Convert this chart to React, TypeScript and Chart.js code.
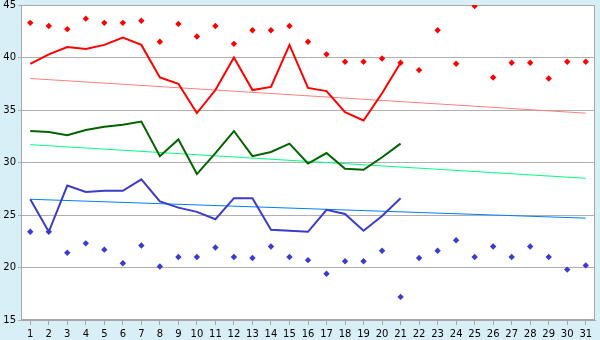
import React, { useEffect, useRef } from 'react';
import { Chart, registerables } from 'chart.js';

Chart.register(...registerables);

const days = ['1','2','3','4','5','6','7','8','9','10','11','12','13','14','15','16','17','18','19','20','21','22','23','24','25','26','27','28','29','30','31'];

const redLine = [39.4, 40.3, 41.0, 40.8, 41.2, 41.9, 41.2, 38.1, 37.5, 34.7, 36.9, 40.0, 36.9, 37.2, 41.2, 37.1, 36.8, 34.8, 34.0, 36.6, 39.5];
const greenLine = [33.0, 32.9, 32.6, 33.1, 33.4, 33.6, 33.9, 30.6, 32.2, 28.9, 30.9, 33.0, 30.6, 31.0, 31.8, 29.9, 30.9, 29.4, 29.3, 30.5, 31.8];
const blueLine = [26.5, 23.4, 27.8, 27.2, 27.3, 27.3, 28.4, 26.3, 25.7, 25.3, 24.6, 26.6, 26.6, 23.6, 23.5, 23.4, 25.5, 25.1, 23.5, 24.9, 26.6];

const redPoints = [43.3, 43.0, 42.7, 43.7, 43.3, 43.3, 43.5, 41.5, 43.2, 42.0, 43.0, 41.3, 42.6, 42.6, 43.0, 41.5, 40.3, 39.6, 39.6, 39.9, 39.5, 38.8, 42.6, 39.4, 44.9, 38.1, 39.5, 39.5, 38.0, 39.6, 39.6];
const bluePoints = [23.4, 23.4, 21.4, 22.3, 21.7, 20.4, 22.1, 20.1, 21.0, 21.0, 21.9, 21.0, 20.9, 22.0, 21.0, 20.7, 19.4, 20.6, 20.6, 21.6, 17.2, 20.9, 21.6, 22.6, 21.0, 22.0, 21.0, 22.0, 21.0, 19.8, 20.2];

const redTrend = [38.0, 34.7];
const greenTrend = [31.7, 28.5];
const blueTrend = [26.5, 24.7];

const yTicks = [15, 20, 25, 30, 35, 40, 45];

const frame = {
  id: 'frame',
  beforeDraw(chart: any) {
    const { ctx, chartArea, width, height } = chart;
    ctx.save();
    ctx.fillStyle = '#d9eff7';
    ctx.fillRect(0, 0, width, height);
    ctx.fillStyle = '#ffffff';
    ctx.fillRect(chartArea.left, chartArea.top, chartArea.right - chartArea.left, chartArea.bottom - chartArea.top);
    ctx.restore();
  },
  beforeDatasetsDraw(chart: any) {
    const { ctx, chartArea } = chart;
    ctx.save();
    ctx.strokeStyle = '#a8a8a8';
    ctx.lineWidth = 1;
    ctx.strokeRect(Math.round(chartArea.left) + 0.5, Math.round(chartArea.top) + 0.5, Math.round(chartArea.right - chartArea.left) - 1, Math.round(chartArea.bottom - chartArea.top) - 1);
    ctx.restore();
  },
};

const trend = (vals: number[]) => [
  { x: days[0], y: vals[0] },
  { x: days[days.length - 1], y: vals[1] },
];

export default function App() {
  const ref = useRef<HTMLCanvasElement | null>(null);

  useEffect(() => {
    document.body.style.margin = '0';
    if (!ref.current) return;
    const font = { family: '"DejaVu Sans", Verdana, sans-serif', size: 10 };
    const chart = new Chart(ref.current, {
      type: 'line',
      data: {
        labels: days,
        datasets: [
          { data: redPoints, showLine: false, pointStyle: 'rectRot', pointRadius: 3.2, backgroundColor: '#ff0000', borderColor: '#ff0000', borderWidth: 0 },
          { data: bluePoints, showLine: false, pointStyle: 'rectRot', pointRadius: 3.2, backgroundColor: '#3b3bcc', borderColor: '#3b3bcc', borderWidth: 0 },
          { data: redLine, borderColor: '#ff0000', borderWidth: 2, pointRadius: 0, fill: false },
          { data: greenLine, borderColor: '#006400', borderWidth: 2, pointRadius: 0, fill: false },
          { data: blueLine, borderColor: '#3b3bcc', borderWidth: 2, pointRadius: 0, fill: false },
          { data: trend(redTrend), borderColor: '#ff8080', borderWidth: 1, pointRadius: 0, fill: false },
          { data: trend(greenTrend), borderColor: '#00ff80', borderWidth: 1, pointRadius: 0, fill: false },
          { data: trend(blueTrend), borderColor: '#0080ff', borderWidth: 1, pointRadius: 0, fill: false },
        ],
      } as any,
      options: {
        responsive: false,
        animation: false,
        layout: { padding: { top: 5, right: 5, left: 0, bottom: 0 } },
        plugins: { legend: { display: false }, tooltip: { enabled: false } },
        scales: {
          x: {
            type: 'category',
            offset: true,
            grid: { drawOnChartArea: false, drawTicks: true, tickLength: 5, color: '#a8a8a8' },
            border: { color: '#a8a8a8' },
            ticks: { font, color: '#000', padding: 3, autoSkip: false, maxRotation: 0 },
            afterFit: (s: any) => { s.height = 20; s.paddingLeft = 0; s.paddingRight = 0; },
          },
          y: {
            min: yTicks[0],
            max: yTicks[yTicks.length - 1],
            grid: { color: '#b0b0b0', tickLength: 3 },
            border: { color: '#a8a8a8' },
            ticks: { font, color: '#000', stepSize: 5, padding: 2 },
            afterFit: (s: any) => { s.width = 21; s.paddingTop = 0; s.paddingBottom = 0; },
          },
        },
      } as any,
      plugins: [frame],
    });
    return () => chart.destroy();
  }, []);

  return (
    <div style={{ position: 'absolute', left: 0, top: 0, width: 600, height: 340 }}>
      <canvas ref={ref} width={600} height={340} style={{ display: 'block' }} />
    </div>
  );
}
